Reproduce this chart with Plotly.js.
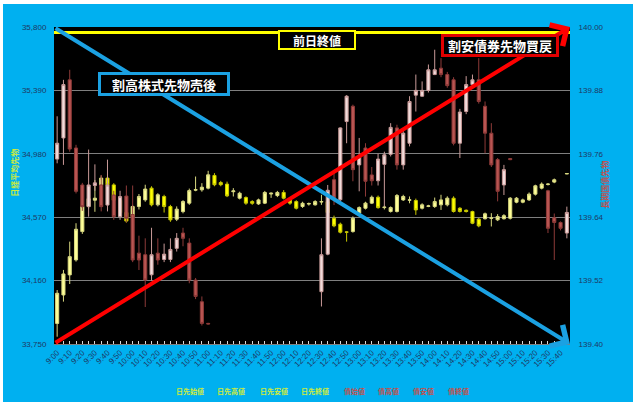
<!DOCTYPE html>
<html>
<head>
<meta charset="utf-8">
<script src="https://cdn.plot.ly/plotly-3.0.1.min.js"></script>
<style>
  body { margin: 0; background: #ffffff; }
  #chart { position: absolute; left: 3px; top: 4px; width: 630px; height: 398px; }
</style>
</head>
<body>
<div id="chart"></div>
<script>

// 5 minute bars, 9:00 - 15:45
const categories = [
	'9:00','9:05','9:10','9:15','9:20','9:25','9:30','9:35','9:40','9:45','9:50','9:55',
	'10:00','10:05','10:10','10:15','10:20','10:25','10:30','10:35','10:40','10:45','10:50','10:55',
	'11:00','11:05','11:10','11:15','11:20','11:25','11:30','11:35','11:40','11:45','11:50','11:55',
	'12:00','12:05','12:10','12:15','12:20','12:25','12:30','12:35','12:40','12:45','12:50','12:55',
	'13:00','13:05','13:10','13:15','13:20','13:25','13:30','13:35','13:40','13:45','13:50','13:55',
	'14:00','14:05','14:10','14:15','14:20','14:25','14:30','14:35','14:40','14:45','14:50','14:55',
	'15:00','15:05','15:10','15:15','15:20','15:25','15:30','15:35','15:40','15:45'
];

// 日経平均先物
const nkOpen = [
	33883,34067,34197,34294,34477,34640,34680,34779,34823,34779,34680,34600,
	34574,34639,34682,34758,34650,34704,34639,34557,34606,34661,34745,34747,
	34758,34840,34794,34784,34735,34693,34697,34671,34656,34661,34720,34710,
	34730,34682,34671,34639,34655,34650,34668,34670,34563,34525,34475,34477,
	34596,34628,34661,34699,34632,34607,34607,34682,34680,34678,34628,34640,
	34639,34650,34650,34693,34628,34615,34607,34557,34560,34563,34553,34560,
	34563,34667,34667,34682,34719,34758,34782,34797,null,34850
];
const nkHigh = [
	34099,34229,34412,34531,34661,34700,34810,34840,34850,34790,34700,34610,
	34650,34720,34780,34770,34725,34715,34650,34640,34680,34755,34833,34790,
	34870,34855,34805,34800,34758,34735,34705,34680,34690,34740,34730,34740,
	34745,34690,34680,34670,34665,34680,34715,34680,34580,34535,34480,34575,
	34640,34670,34710,34710,34645,34640,34720,34715,34704,34690,34660,34650,
	34697,34715,34705,34705,34635,34620,34612,34565,34600,34596,34590,34590,
	34700,34700,34690,34730,34780,34795,34790,34820,null,34855
];
const nkLow = [
	33797,34024,34138,34283,34462,34625,34605,34765,34765,34670,34590,34535,
	34560,34620,34670,34640,34640,34600,34540,34545,34595,34650,34738,34735,
	34750,34770,34770,34700,34704,34685,34650,34650,34650,34655,34695,34700,
	34685,34650,34620,34630,34645,34645,34650,34590,34505,34465,34412,34470,
	34590,34620,34655,34625,34620,34600,34600,34675,34660,34585,34620,34635,
	34630,34617,34640,34600,34600,34600,34525,34505,34555,34510,34545,34555,
	34555,34660,34660,34675,34710,34750,34775,34790,null,34848
];
const nkClose = [
	34078,34203,34315,34492,34639,34690,34693,34823,34779,34680,34600,34545,
	34639,34704,34752,34650,34715,34639,34553,34622,34671,34742,34748,34764,
	34844,34780,34780,34708,34740,34725,34661,34660,34682,34730,34725,34730,
	34693,34661,34628,34660,34658,34671,34671,34600,34514,34473,34473,34563,
	34632,34661,34699,34632,34635,34632,34710,34704,34682,34617,34650,34643,
	34671,34682,34693,34607,34607,34607,34531,34514,34592,34565,34574,34580,
	34693,34693,34682,34719,34773,34784,34784,34812,null,34852
];

// 長期国債先物
const jbOpen = [
	139.750,139.790,139.900,139.771,139.701,139.660,139.700,139.701,139.663,139.682,139.641,139.680,
	139.645,139.572,139.569,139.531,139.572,139.560,139.560,139.581,139.610,139.591,139.521,139.480,
	139.439,null,null,null,null,null,null,null,null,null,null,null,
	null,null,null,null,null,null,139.499,139.570,139.711,139.673,139.821,139.850,
	139.739,139.771,139.720,139.709,139.740,139.759,139.809,139.739,139.780,139.871,139.869,139.880,
	139.910,139.922,139.910,139.900,139.780,139.840,139.891,139.900,139.850,139.799,139.749,139.701,
	139.751,null,null,null,null,null,139.690,139.639,139.630,139.610
];
const jbHigh = [
	139.831,139.900,139.919,139.777,139.705,139.768,139.740,139.720,139.749,139.690,139.690,139.700,
	139.700,139.605,139.600,139.620,139.600,139.590,139.600,139.610,139.620,139.600,139.525,139.490,
	139.440,null,null,null,null,null,null,null,null,null,null,null,
	null,null,null,null,null,null,139.600,139.701,139.723,139.810,139.871,139.853,
	139.790,139.780,139.735,139.760,139.764,139.818,139.815,139.805,139.869,139.910,139.897,139.929,
	139.957,139.941,139.915,139.905,139.845,139.907,139.910,139.941,139.859,139.818,139.752,139.739,
	139.752,null,null,null,null,null,139.692,139.647,139.632,139.660
];
const jbLow = [
	139.742,139.739,139.764,139.685,139.652,139.641,139.690,139.651,139.651,139.635,139.635,139.630,
	139.555,139.540,139.470,139.520,139.550,139.555,139.555,139.575,139.585,139.515,139.485,139.435,
	139.437,null,null,null,null,null,null,null,null,null,null,null,
	null,null,null,null,null,null,139.471,139.568,139.663,139.670,139.780,139.708,
	139.689,139.679,139.700,139.700,139.660,139.755,139.730,139.730,139.774,139.840,139.868,139.876,
	139.909,139.905,139.885,139.776,139.752,139.835,139.888,139.855,139.761,139.735,139.670,139.682,
	139.748,null,null,null,null,null,139.610,139.559,139.615,139.600
];
const jbClose = [
	139.780,139.891,139.769,139.689,139.660,139.701,139.705,139.660,139.701,139.641,139.679,139.638,
	139.559,139.559,139.521,139.569,139.559,139.570,139.579,139.600,139.600,139.521,139.490,139.439,
	139.438,null,null,null,null,null,null,null,null,null,null,null,
	null,null,null,null,null,null,139.569,139.691,139.676,139.809,139.869,139.730,
	139.755,139.708,139.709,139.750,139.758,139.810,139.739,139.799,139.859,139.880,139.880,139.919,
	139.919,139.910,139.889,139.780,139.839,139.891,139.900,139.859,139.799,139.739,139.689,139.730,
	139.749,null,null,null,null,null,139.619,139.630,139.619,139.649
];

const prevClose = 35765;

const nkTicks = [33750, 34160, 34570, 34980, 35390, 35800];
const jbTicks = [139.40, 139.52, 139.64, 139.76, 139.88, 140.00];

const nkLegend = ['日先始値', '日先高値', '日先安値', '日先終値'];
const jbLegend = ['債始値', '債高値', '債安値', '債終値'];

const nkTitle = '日経平均先物';
const jbTitle = '長期国債先物';
const prevCloseLabel = '前日終値';
const stockNote = '割高株式先物売後';
const bondNote = '割安債券先物買戻';


const JP = '"Noto Sans CJK JP", "Noto Sans", sans-serif';
const NUM = '"Liberation Sans Narrow", "Liberation Sans", Arial, sans-serif';
const TICKCOL = '#1F3864';

// image pixel -> paper coords of the plot area
function px(x) { return (x - 54) / 516; }
function py(y) { return 1 - (y - 27.4) / 316.6; }

const traces = [{
	type: 'candlestick',
	x: categories, open: nkOpen, high: nkHigh, low: nkLow, close: nkClose,
	xaxis: 'x', yaxis: 'y',
	whiskerwidth: 0,
	increasing: { fillcolor: '#FFFF99', line: { color: '#D8D880', width: 1 } },
	decreasing: { fillcolor: '#FFFF00', line: { color: '#C8C800', width: 1 } },
}, {
	type: 'candlestick',
	x: categories, open: jbOpen, high: jbHigh, low: jbLow, close: jbClose,
	xaxis: 'x', yaxis: 'y2',
	whiskerwidth: 0,
	increasing: { fillcolor: '#F2DCDB', line: { color: '#C89A98', width: 1 } },
	decreasing: { fillcolor: '#B95552', line: { color: '#8E3B39', width: 1 } },
}];

function note(x, y, text, opts) {
	return Object.assign({
		xref: 'paper', yref: 'paper', x: px(x), y: py(y), text: text, showarrow: false,
		xanchor: 'center', yanchor: 'middle'
	}, opts);
}

const annotations = [
	// arrows
	{ xref: 'paper', yref: 'paper', x: 1, y: 0, ax: -516, ay: -316.6, text: '',
	  showarrow: true, arrowhead: 4, arrowsize: 1.2, arrowwidth: 4, arrowcolor: '#1BA1E2', standoff: 0 },
	{ xref: 'paper', yref: 'paper', x: 1, y: 1, ax: -516, ay: 316.6, text: '',
	  showarrow: true, arrowhead: 4, arrowsize: 1.2, arrowwidth: 4, arrowcolor: '#FF0000', standoff: 0 },
	// boxes
	note(317, 40, '<b>' + prevCloseLabel + '</b>', {
		font: { family: JP, size: 12, color: '#FFFFFF' }, bgcolor: '#000000', bordercolor: '#FFFF00',
		borderwidth: 2, borderpad: 1, width: 72, height: 14 }),
	note(164, 84, '<b>' + stockNote + '</b>', {
		font: { family: JP, size: 13, color: '#FFFFFF' }, bgcolor: '#000000', bordercolor: '#1BA1E2',
		borderwidth: 3, borderpad: 1, width: 124, height: 16 }),
	note(500, 46, '<b>' + bondNote + '</b>', {
		font: { family: JP, size: 13, color: '#FFFFFF' }, bgcolor: '#000000', bordercolor: '#E00000',
		borderwidth: 3, borderpad: 1, width: 110, height: 15 }),
	// axis titles
	note(15, 173, '<b>' + nkTitle + '</b>', { textangle: -90, font: { family: JP, size: 8, color: '#CDEB3C' } }),
	note(605, 185, '<b>' + jbTitle + '</b>', { textangle: -90, font: { family: JP, size: 8, color: '#C0504D' } }),
];

// legend labels along the bottom
const legendX = [189.5, 231, 273.5, 315, 354, 388, 423, 458];
nkLegend.concat(jbLegend).forEach(function(t, k) {
	annotations.push(note(legendX[k], 391, '<b>' + t + '</b>', {
		font: { family: JP, size: 7, color: k < 4 ? '#CDEB3C' : '#C0504D' } }));
});

const tickText = categories.map(function(c, i) { return i % 2 == 0 ? c : ''; });

const layout = {
	width: 630, height: 398,
	paper_bgcolor: '#00B0F0',
	plot_bgcolor: '#000000',
	margin: { l: 51, r: 63, t: 23, b: 58, pad: 0 },
	showlegend: false,
	xaxis: {
		type: 'category',
		range: [-0.5, categories.length - 0.5],
		tickmode: 'array', tickvals: categories, ticktext: tickText,
		tickangle: -45,
		tickfont: { family: NUM, size: 8, color: TICKCOL },
		ticks: 'inside', ticklen: 3, tickcolor: '#D9D9D9',
		showgrid: false, zeroline: false,
		showline: true, linecolor: '#7F7F7F', linewidth: 1,
		rangeslider: { visible: false },
	},
	yaxis: {
		range: [nkTicks[0], nkTicks[nkTicks.length - 1]],
		tickmode: 'array', tickvals: nkTicks,
		ticktext: nkTicks.map(function(v) { return v.toLocaleString('en-US'); }),
		tickfont: { family: NUM, size: 8, color: TICKCOL },
		ticks: 'outside', ticklen: 5, tickcolor: 'rgba(0,0,0,0)',
		showgrid: true, gridcolor: '#7F7F7F', gridwidth: 1,
		zeroline: false, showline: false,
	},
	yaxis2: {
		overlaying: 'y', side: 'right',
		range: [jbTicks[0], jbTicks[jbTicks.length - 1]],
		tickmode: 'array', tickvals: jbTicks,
		ticktext: jbTicks.map(function(v) { return v.toFixed(2); }),
		tickfont: { family: NUM, size: 8, color: TICKCOL },
		ticks: 'outside', ticklen: 6, tickcolor: 'rgba(0,0,0,0)',
		showgrid: false, zeroline: false, showline: false,
	},
	shapes: [{
		type: 'line', xref: 'paper', x0: 0, x1: 1, yref: 'y', y0: prevClose, y1: prevClose,
		line: { color: '#FFFF00', width: 3 }
	}],
	annotations: annotations,
};

Plotly.newPlot('chart', traces, layout, { displayModeBar: false, staticPlot: true });

</script>
</body>
</html>
